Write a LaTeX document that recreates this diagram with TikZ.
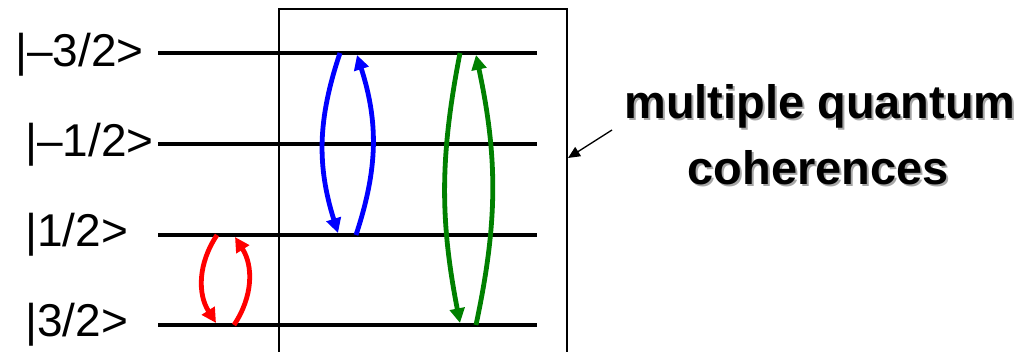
\documentclass[tikz,border=0pt]{standalone}
\usepackage{fontspec}
\setmainfont{Liberation Sans}
\usetikzlibrary{arrows.meta}

\begin{document}
\begin{tikzpicture}[
    x=0.75pt, y=0.75pt,
    level/.style={line width=3.4pt},
    ketlabel/.style={anchor=base west, inner sep=0pt, font=\fontsize{34.5}{40}\selectfont},
    trans/.style={line width=3.6pt, -{Triangle[length=11pt, width=11pt]}},
    mqcbox/.style={line width=1pt},
    note/.style={anchor=base, inner sep=0pt, font=\fontsize{35.2}{40}\selectfont\bfseries},
    noteshadow/.style={note, text=black!35},
    pointer/.style={line width=1pt, -{Triangle[length=9pt, width=8pt]}}
]
\useasboundingbox (0,0) rectangle (1029,352);

%% ---- Levels ----
\coordinate (l1a) at (158,299); \coordinate (l1b) at (537,299);
\coordinate (l2a) at (158,208); \coordinate (l2b) at (537,208);
\coordinate (l3a) at (158,117); \coordinate (l3b) at (537,117);
\coordinate (l4a) at (158,27);  \coordinate (l4b) at (537,27);

\draw[level] (l1a) -- (l1b);
\draw[level] (l2a) -- (l2b);
\draw[level] (l3a) -- (l3b);
\draw[level] (l4a) -- (l4b);

%% ---- Ket labels ----
\node[ketlabel] (k1) at (15,285) {|–3/2>};
\node[ketlabel] (k2) at (25,195) {|–1/2>};
\node[ketlabel] (k3) at (25,105) {|1/2>};
\node[ketlabel] (k4) at (25,15)  {|3/2>};

%% ---- Coherence box ----
\coordinate (boxbl) at (279,-10);
\coordinate (boxtr) at (567,343);
\coordinate (boxbr) at (567,-10);
\draw[mqcbox] (boxbl) |- (boxtr) -- (boxbr);

%% ---- Red transition ----
\coordinate (r1s) at (217,117); \coordinate (r1e) at (216,29);
\coordinate (r2s) at (234,27);  \coordinate (r2e) at (235,115);
\draw[trans, red] (r1s) to[bend right=33] (r1e);
\draw[trans, red] (r2s) to[bend right=33] (r2e);

%% ---- Blue transition ----
\coordinate (b1s) at (340,299); \coordinate (b1e) at (338,119);
\coordinate (b2s) at (356,117); \coordinate (b2e) at (357,297);
\draw[trans, blue] (b1s) to[bend right=18] (b1e);
\draw[trans, blue] (b2s) to[bend right=18] (b2e);

%% ---- Green transition ----
\coordinate (g1s) at (460,299); \coordinate (g1e) at (460,29);
\coordinate (g2s) at (476,27);  \coordinate (g2e) at (476,297);
\draw[trans, green!50!black] (g1s) to[bend right=11] (g1e);
\draw[trans, green!50!black] (g2s) to[bend right=12] (g2e);

%% ---- Annotation ----
\node[noteshadow] (mqs1) at (822,231) {multiple quantum};
\node[noteshadow] (mqs2) at (820,165) {coherences};
\node[note] (mq1) at (820,233) {multiple quantum};
\node[note] (mq2) at (818,167) {coherences};

\coordinate (ptrtail) at (612,222);
\coordinate (ptrtip) at (568,194);
\draw[pointer] (ptrtail) -- (ptrtip);

\end{tikzpicture}
\end{document}
